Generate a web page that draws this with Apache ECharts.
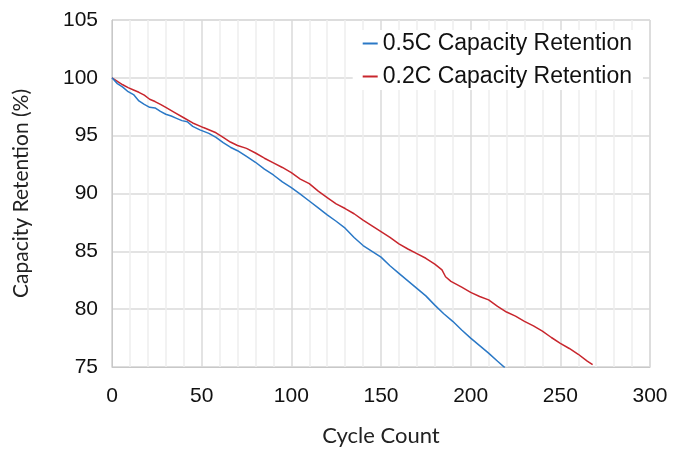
<!DOCTYPE html>
<html>
<head>
<meta charset="utf-8">
<script src="https://cdn.jsdelivr.net/npm/echarts@6/dist/echarts.min.js"></script>
<style>
  html, body { margin: 0; padding: 0; background: #fff; }
  #chart { width: 688px; height: 452px; }
</style>
</head>
<body>
<div id="chart"></div>
<script type="text/javascript">
// 0.5C capacity retention
var cycles05 = [0, 3, 6, 9, 12, 15, 18, 21, 24, 27, 30, 33, 36, 39, 42, 45, 49, 54, 58, 62, 66, 70, 75, 80, 85, 90, 95, 100, 105, 110, 115, 120, 125, 130, 135, 140, 145, 150, 155, 160, 165, 170, 175, 180, 185, 190, 195, 200, 205, 210, 215, 219];
var ret05 = [100, 99.5, 99.2, 98.8, 98.55, 98.0, 97.7, 97.45, 97.4, 97.1, 96.85, 96.7, 96.5, 96.3, 96.2, 95.8, 95.5, 95.2, 94.85, 94.4, 94.0, 93.7, 93.2, 92.7, 92.1, 91.6, 91.0, 90.5, 89.95, 89.35, 88.75, 88.15, 87.6, 87.0, 86.2, 85.5, 85.0, 84.5, 83.75, 83.1, 82.45, 81.8, 81.15, 80.35, 79.6, 78.95, 78.2, 77.5, 76.85, 76.2, 75.5, 74.95];
// 0.2C capacity retention
var cycles02 = [0, 3, 6, 9, 12, 15, 18, 21, 24, 27, 30, 35, 40, 45, 51, 55, 58, 62, 66, 70, 75, 80, 85, 90, 95, 100, 105, 110, 115, 120, 125, 130, 135, 140, 145, 150, 155, 160, 165, 170, 175, 180, 184, 186, 189, 195, 200, 205, 210, 215, 220, 225, 230, 235, 240, 245, 250, 255, 260, 265, 268];
var ret02 = [100, 99.7, 99.4, 99.15, 98.95, 98.75, 98.5, 98.15, 97.95, 97.7, 97.45, 97.0, 96.55, 96.1, 95.7, 95.45, 95.25, 94.85, 94.45, 94.15, 93.9, 93.5, 93.05, 92.65, 92.25, 91.8, 91.25, 90.85, 90.2, 89.65, 89.1, 88.7, 88.25, 87.7, 87.2, 86.7, 86.2, 85.65, 85.2, 84.8, 84.4, 83.9, 83.4, 82.8, 82.4, 81.9, 81.45, 81.1, 80.8, 80.25, 79.75, 79.4, 78.95, 78.55, 78.1, 77.55, 77.05, 76.6, 76.1, 75.5, 75.2];

function pairs(xs, ys) {
	var res = [];
	for (var i = 0; i < xs.length; i++) res.push([xs[i], ys[i]]);
	return res;
}

var chart = echarts.init(document.getElementById('chart'));
var option = {
	animation: false,
	grid: {
		left: 112, right: 38, top: 20, bottom: 83,
		show: true, borderColor: '#d0d0d0', borderWidth: 1
	},
	legend: {
		orient: 'vertical',
		right: 45, top: 30,
		align: 'left',
		backgroundColor: '#ffffff',
		padding: [2, 11, 2, 10],
		itemWidth: 15, itemHeight: 2, itemGap: 10,
		icon: 'rect',
		textStyle: { fontFamily: 'Liberation Sans', fontSize: 23, color: '#111' },
		data: ['0.5C Capacity Retention', '0.2C Capacity Retention']
	},
	xAxis: {
		type: 'value', min: 0, max: 300, interval: 50,
		name: 'Cycle Count', nameLocation: 'middle', nameGap: 58,
		nameTextStyle: { fontFamily: 'Lato', fontSize: 22, color: '#222' },
		axisLine: { show: true, lineStyle: { color: '#c8c8c8' } },
		axisTick: { show: false },
		axisLabel: { fontFamily: 'Liberation Sans', fontSize: 21, color: '#111', margin: 19 },
		splitLine: { show: true, lineStyle: { color: '#dadada', width: 1.5 } },
		minorTick: { show: false, splitNumber: 5 },
		minorSplitLine: { show: true, lineStyle: { color: '#eeeeee', width: 1.5 } }
	},
	yAxis: {
		type: 'value', min: 75, max: 105, interval: 5,
		name: 'Capacity Retention (%)', nameLocation: 'middle', nameGap: 80,
		nameTextStyle: { fontFamily: 'Lato', fontSize: 21, color: '#222' },
		axisLine: { show: true, lineStyle: { color: '#c8c8c8' } },
		axisTick: { show: false },
		axisLabel: { fontFamily: 'Liberation Sans', fontSize: 21, color: '#111', margin: 14 },
		splitLine: { show: true, lineStyle: { color: '#dadada', width: 1.5 } }
	},
	series: [
		{
			name: '0.5C Capacity Retention', type: 'line', showSymbol: false,
			lineStyle: { color: '#2a78c6', width: 1.5 }, itemStyle: { color: '#2a78c6' },
			data: pairs(cycles05, ret05), z: 3
		},
		{
			name: '0.2C Capacity Retention', type: 'line', showSymbol: false,
			lineStyle: { color: '#c8262d', width: 1.5 }, itemStyle: { color: '#c8262d' },
			data: pairs(cycles02, ret02), z: 2
		}
	]
};
chart.setOption(option);
</script>
</body>
</html>
